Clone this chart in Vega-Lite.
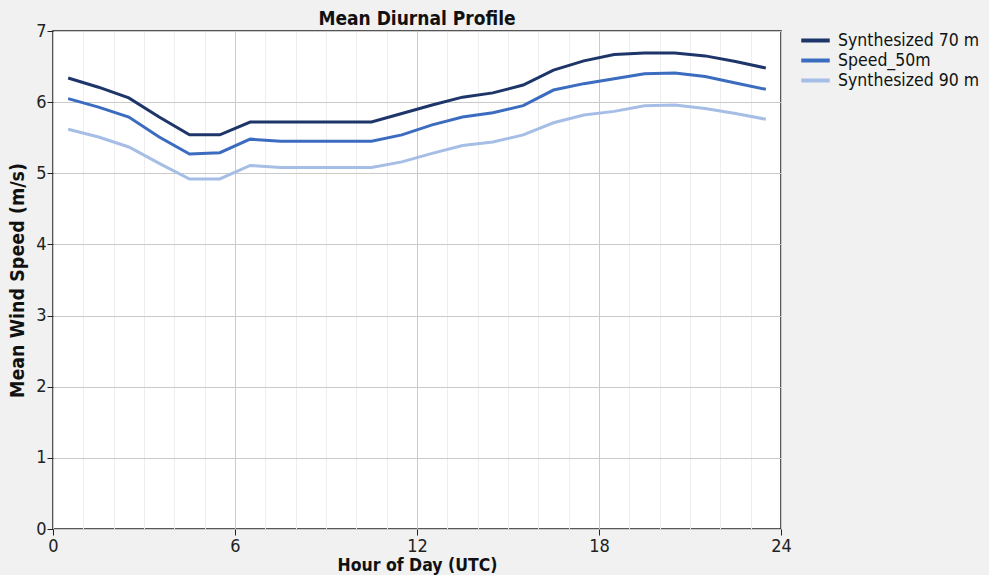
{
  "$schema": "https://vega.github.io/schema/vega-lite/v6.json",
  "width": 728,
  "height": 498,
  "autosize": {"type": "none"},
  "padding": {"left": 53, "top": 31, "right": 208, "bottom": 46},
  "background": "#f0f1f0",
  "title": {"text": "Mean Diurnal Profile", "font": "DejaVu Sans Condensed, Liberation Sans", "fontSize": 19, "fontWeight": "bold", "color": "#111", "anchor": "middle", "offset": -7},
  "config": {
    "view": {"fill": "white", "stroke": "#222", "strokeWidth": 1.5},
    "font": "DejaVu Sans Condensed, Liberation Sans"
  },
  "data": {"values": [
    {"hour": 0.5, "speed": 6.34, "series": "Synthesized 70 m"},
    {"hour": 1.5, "speed": 6.21, "series": "Synthesized 70 m"},
    {"hour": 2.5, "speed": 6.06, "series": "Synthesized 70 m"},
    {"hour": 3.5, "speed": 5.79, "series": "Synthesized 70 m"},
    {"hour": 4.5, "speed": 5.54, "series": "Synthesized 70 m"},
    {"hour": 5.5, "speed": 5.54, "series": "Synthesized 70 m"},
    {"hour": 6.5, "speed": 5.72, "series": "Synthesized 70 m"},
    {"hour": 7.5, "speed": 5.72, "series": "Synthesized 70 m"},
    {"hour": 8.5, "speed": 5.72, "series": "Synthesized 70 m"},
    {"hour": 9.5, "speed": 5.72, "series": "Synthesized 70 m"},
    {"hour": 10.5, "speed": 5.72, "series": "Synthesized 70 m"},
    {"hour": 11.5, "speed": 5.84, "series": "Synthesized 70 m"},
    {"hour": 12.5, "speed": 5.96, "series": "Synthesized 70 m"},
    {"hour": 13.5, "speed": 6.07, "series": "Synthesized 70 m"},
    {"hour": 14.5, "speed": 6.13, "series": "Synthesized 70 m"},
    {"hour": 15.5, "speed": 6.24, "series": "Synthesized 70 m"},
    {"hour": 16.5, "speed": 6.45, "series": "Synthesized 70 m"},
    {"hour": 17.5, "speed": 6.58, "series": "Synthesized 70 m"},
    {"hour": 18.5, "speed": 6.67, "series": "Synthesized 70 m"},
    {"hour": 19.5, "speed": 6.69, "series": "Synthesized 70 m"},
    {"hour": 20.5, "speed": 6.69, "series": "Synthesized 70 m"},
    {"hour": 21.5, "speed": 6.65, "series": "Synthesized 70 m"},
    {"hour": 22.5, "speed": 6.57, "series": "Synthesized 70 m"},
    {"hour": 23.5, "speed": 6.48, "series": "Synthesized 70 m"},
    {"hour": 0.5, "speed": 6.05, "series": "Speed_50m"},
    {"hour": 1.5, "speed": 5.93, "series": "Speed_50m"},
    {"hour": 2.5, "speed": 5.79, "series": "Speed_50m"},
    {"hour": 3.5, "speed": 5.51, "series": "Speed_50m"},
    {"hour": 4.5, "speed": 5.27, "series": "Speed_50m"},
    {"hour": 5.5, "speed": 5.29, "series": "Speed_50m"},
    {"hour": 6.5, "speed": 5.48, "series": "Speed_50m"},
    {"hour": 7.5, "speed": 5.45, "series": "Speed_50m"},
    {"hour": 8.5, "speed": 5.45, "series": "Speed_50m"},
    {"hour": 9.5, "speed": 5.45, "series": "Speed_50m"},
    {"hour": 10.5, "speed": 5.45, "series": "Speed_50m"},
    {"hour": 11.5, "speed": 5.54, "series": "Speed_50m"},
    {"hour": 12.5, "speed": 5.68, "series": "Speed_50m"},
    {"hour": 13.5, "speed": 5.79, "series": "Speed_50m"},
    {"hour": 14.5, "speed": 5.85, "series": "Speed_50m"},
    {"hour": 15.5, "speed": 5.95, "series": "Speed_50m"},
    {"hour": 16.5, "speed": 6.17, "series": "Speed_50m"},
    {"hour": 17.5, "speed": 6.26, "series": "Speed_50m"},
    {"hour": 18.5, "speed": 6.33, "series": "Speed_50m"},
    {"hour": 19.5, "speed": 6.40, "series": "Speed_50m"},
    {"hour": 20.5, "speed": 6.41, "series": "Speed_50m"},
    {"hour": 21.5, "speed": 6.36, "series": "Speed_50m"},
    {"hour": 22.5, "speed": 6.27, "series": "Speed_50m"},
    {"hour": 23.5, "speed": 6.18, "series": "Speed_50m"},
    {"hour": 0.5, "speed": 5.62, "series": "Synthesized 90 m"},
    {"hour": 1.5, "speed": 5.51, "series": "Synthesized 90 m"},
    {"hour": 2.5, "speed": 5.37, "series": "Synthesized 90 m"},
    {"hour": 3.5, "speed": 5.14, "series": "Synthesized 90 m"},
    {"hour": 4.5, "speed": 4.92, "series": "Synthesized 90 m"},
    {"hour": 5.5, "speed": 4.92, "series": "Synthesized 90 m"},
    {"hour": 6.5, "speed": 5.11, "series": "Synthesized 90 m"},
    {"hour": 7.5, "speed": 5.08, "series": "Synthesized 90 m"},
    {"hour": 8.5, "speed": 5.08, "series": "Synthesized 90 m"},
    {"hour": 9.5, "speed": 5.08, "series": "Synthesized 90 m"},
    {"hour": 10.5, "speed": 5.08, "series": "Synthesized 90 m"},
    {"hour": 11.5, "speed": 5.16, "series": "Synthesized 90 m"},
    {"hour": 12.5, "speed": 5.28, "series": "Synthesized 90 m"},
    {"hour": 13.5, "speed": 5.39, "series": "Synthesized 90 m"},
    {"hour": 14.5, "speed": 5.44, "series": "Synthesized 90 m"},
    {"hour": 15.5, "speed": 5.54, "series": "Synthesized 90 m"},
    {"hour": 16.5, "speed": 5.71, "series": "Synthesized 90 m"},
    {"hour": 17.5, "speed": 5.82, "series": "Synthesized 90 m"},
    {"hour": 18.5, "speed": 5.87, "series": "Synthesized 90 m"},
    {"hour": 19.5, "speed": 5.95, "series": "Synthesized 90 m"},
    {"hour": 20.5, "speed": 5.96, "series": "Synthesized 90 m"},
    {"hour": 21.5, "speed": 5.91, "series": "Synthesized 90 m"},
    {"hour": 22.5, "speed": 5.84, "series": "Synthesized 90 m"},
    {"hour": 23.5, "speed": 5.76, "series": "Synthesized 90 m"}
  ]},
  "mark": {"type": "line", "strokeWidth": 3, "clip": true},
  "encoding": {
    "x": {
      "field": "hour", "type": "quantitative",
      "scale": {"domain": [0, 24], "nice": false, "zero": false},
      "axis": {
        "title": "Hour of Day (UTC)",
        "values": [0,1,2,3,4,5,6,7,8,9,10,11,12,13,14,15,16,17,18,19,20,21,22,23,24],
        "labelExpr": "datum.value % 6 === 0 ? datum.label : ''",
        "grid": true,
        "gridColor": {"condition": {"test": "datum.value % 6 === 0", "value": "#cacaca"}, "value": "#eeeeee"},
        "gridWidth": 1,
        "tickColor": {"condition": {"test": "datum.value % 6 === 0", "value": "#222"}, "value": "transparent"},
        "tickSize": 6,
        "domain": false,
        "labelFontSize": 18, "labelColor": "#222", "labelPadding": 2,
        "labelFlush": false, "labelOverlap": false,
        "titleFontSize": 17.5, "titleFontWeight": "bold", "titleColor": "#111", "titlePadding": 1
      }
    },
    "y": {
      "field": "speed", "type": "quantitative",
      "scale": {"domain": [0, 7], "nice": false},
      "axis": {
        "title": "Mean Wind Speed (m/s)",
        "format": "d",
        "values": [0,0.5,1,1.5,2,2.5,3,3.5,4,4.5,5,5.5,6,6.5,7],
        "labelExpr": "datum.value % 1 === 0 ? datum.label : ''",
        "grid": true,
        "gridColor": {"condition": {"test": "datum.value % 1 === 0", "value": "#cacaca"}, "value": "#eeeeee"},
        "tickColor": {"condition": {"test": "datum.value % 1 === 0", "value": "#222"}, "value": "transparent"},
        "tickSize": 6,
        "domain": false,
        "labelFontSize": 18, "labelColor": "#222", "labelPadding": 1,
        "labelFlush": false, "labelOverlap": false,
        "titleFontSize": 19.5, "titleFontWeight": "bold", "titleColor": "#111", "titlePadding": 8
      }
    },
    "color": {
      "field": "series", "type": "nominal",
      "scale": {"domain": ["Synthesized 70 m", "Speed_50m", "Synthesized 90 m"], "range": ["#1d3569", "#3b6cc0", "#a6bee6"]},
      "legend": {
        "title": null,
        "orient": "none",
        "legendX": 751,
        "legendY": -2,
        "symbolType": "M-1.5,0L1.5,0",
        "symbolSize": 361,
        "symbolStrokeWidth": 4,
        "symbolFillColor": "transparent",
        "labelFontSize": 17.5,
        "labelColor": "#111",
        "rowPadding": -1,
        "labelOffset": 11
      }
    }
  }
}
